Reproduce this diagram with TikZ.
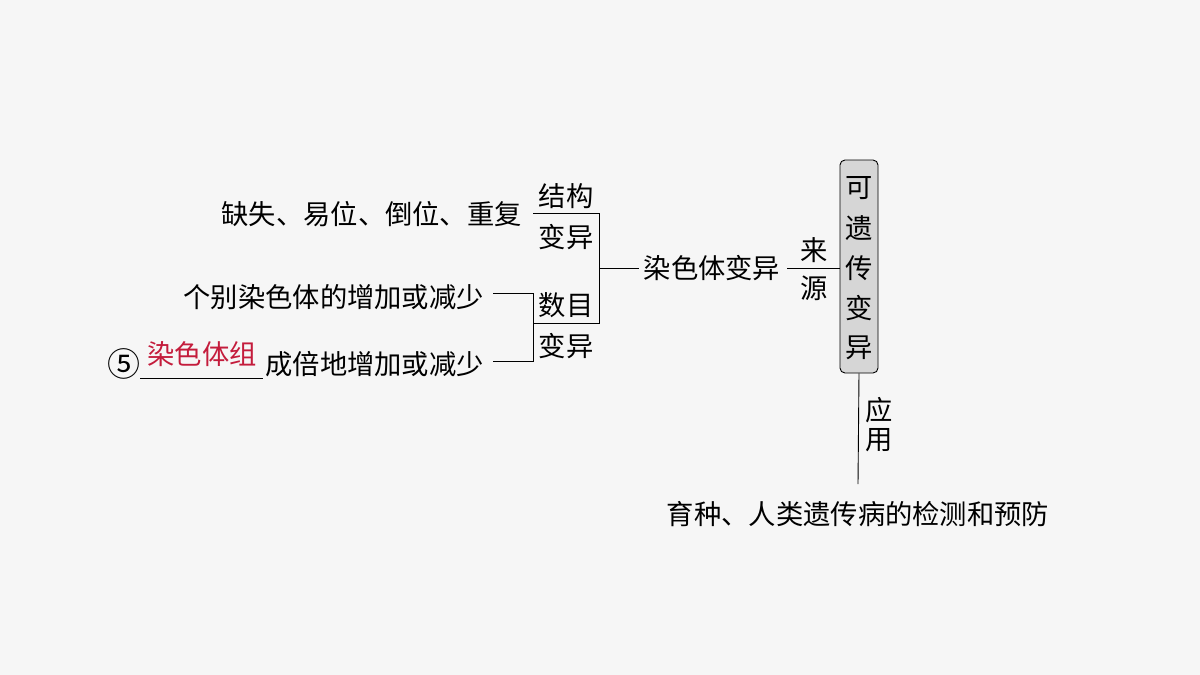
\documentclass[tikz,border=0pt]{standalone}
\usepackage{fontspec}
\setmainfont{Noto Sans CJK SC}
\usepackage{xcolor}
\usepackage{tikz}
\usetikzlibrary{positioning}
\definecolor{bgwood}{RGB}{246,246,246}
\definecolor{boxgray}{RGB}{214,214,214}
\definecolor{ansred}{RGB}{196,28,60}

\begin{document}
\begin{tikzpicture}[x=1pt, y=-1pt,
    txt/.style={inner sep=0pt, font=\fontsize{27.3}{32}\selectfont},
    link/.style={draw, line width=0.9pt}]
            \useasboundingbox (0,0) rectangle (1200,675);
            \fill[bgwood] (0,0) rectangle (1200,675);

            % left column
            \node[txt, anchor=east] at (522, 214)   (qs) {缺失、易位、倒位、重复};
            \node[txt, anchor=east] at (484, 297)   (gb) {个别染色体的增加或减少};
            \node[txt, anchor=east] at (484, 364)   (cb) {成倍地增加或减少};
            \node[txt, font=\fontsize{33}{36}\selectfont] at (124, 364)   (n5) {⑤};
            \node[txt, text=ansred] at (202, 354)   (rst) {染色体组};

            % kinds
            \node[txt] at (566, 196)   (jg) {结构};
            \node[txt] at (566, 237)   (jb) {变异};
            \node[txt] at (566, 305)   (sm) {数目};
            \node[txt] at (566, 346)   (sb) {变异};

            % middle and right
            \node[txt] at (712, 268)   (rsb) {染色体变异};
            \node[txt] at (814, 250)   (ly) {来};
            \node[txt] at (814, 288)   (lv) {源};
            \node[draw, line width=0.9pt, rounded corners=5pt, fill=boxgray, minimum width=38pt,
                  minimum height=213pt, inner sep=0pt] at (859, 266.5) (kyc) {};
            \foreach \c [count=\i] in {可,遗,传,变,异}
                \node[txt] at (859, 148+40*\i) (k\i) {\c};
            \node[txt] at (879, 410)   (yy) {应};
            \node[txt] at (879, 440)   (yn) {用};
            \node[txt] at (858, 514)   (yz) {育种、人类遗传病的检测和预防};

            \coordinate (a1) at (533, 213);
            \coordinate (a2) at (599, 213);
            \coordinate (a3) at (599, 323);
            \coordinate (a4) at (533, 323);
            \coordinate (am) at (599, 268);
            \coordinate (b1) at (493, 293);
            \coordinate (b2) at (533, 293);
            \coordinate (b3) at (533, 361);
            \coordinate (b4) at (493, 361);
            \coordinate (u1) at (140, 378);
            \coordinate (u2) at (263, 378);
            \coordinate (lm) at (787, 268);
            \coordinate (ye) at (858, 484);

            \draw[link] (a1) -- (a2) -- (a3) -- (a4);
            \draw[link] (b1) -- (b2) -- (b3) -- (b4);
            \draw[link] (am) -- ([xshift=-5pt]rsb.west);
            \draw[link] (lm) -- (kyc.west |- lm);
            \draw[link] (kyc.south) -- (ye);
            \draw[line width=0.7pt] (u1) -- (u2);
        \end{tikzpicture}
\end{document}
